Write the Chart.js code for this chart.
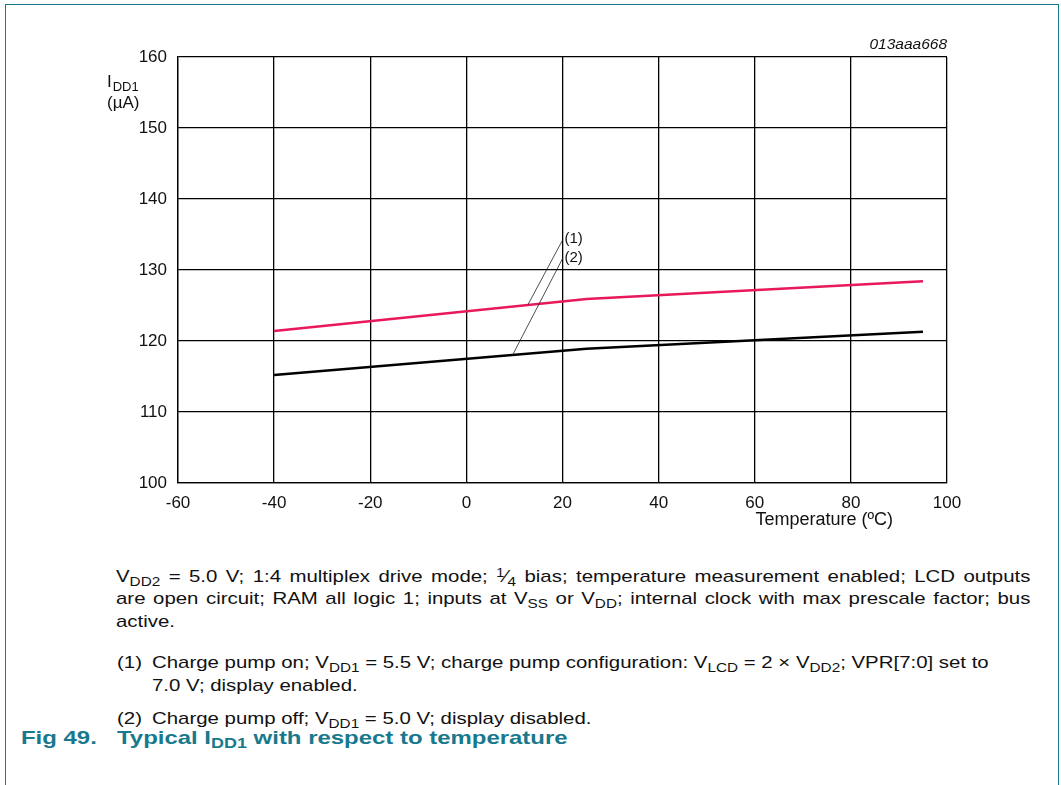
<!DOCTYPE html>
<html>
<head>
<meta charset="utf-8">
<script src="https://cdn.jsdelivr.net/npm/chart.js@4"></script>
<style>
  body { margin: 0; background: #fff; font-family: "Liberation Sans", Arial, sans-serif; }
  #frame { position: absolute; left: 5px; top: 4px; width: 1052px; height: 800px; border: 1.5px solid #16798c; border-bottom: none; }
  #chart { position: absolute; left: 0; top: 0; }
  .t { position: absolute; font-size: 17px; color: #111; white-space: nowrap; line-height: 22px; transform: scaleX(1.2); transform-origin: left center; }
  .t sub { font-size: 0.75em; vertical-align: -0.3em; line-height: 0; }
  .t sup { font-size: 0.7em; vertical-align: 0.45em; line-height: 0; }
  .j { width: 762px; white-space: normal; text-align: justify; text-align-last: justify; }
  .cap { color: #18798d; font-weight: bold; font-size: 19px; transform: scaleX(1.26); }
</style>
</head>
<body>
<div id="frame"></div>
<canvas id="chart" width="1061" height="540"></canvas>

<div class="t j" style="left:116px; top:566px;">V<sub>DD2</sub> = 5.0 V; 1:4 multiplex drive mode; <sup>1</sup>&frasl;<sub>4</sub> bias; temperature measurement enabled; LCD outputs</div>
<div class="t j" style="left:116px; top:588px;">are open circuit; RAM all logic 1; inputs at V<sub>SS</sub> or V<sub>DD</sub>; internal clock with max prescale factor; bus</div>
<div class="t" style="left:116px; top:611px;">active.</div>
<div class="t" style="left:117px; top:652px;">(1)</div>
<div class="t" style="left:152px; top:652px;">Charge pump on; V<sub>DD1</sub> = 5.5 V; charge pump configuration: V<sub>LCD</sub> = 2 &times; V<sub>DD2</sub>; VPR[7:0] set to</div>
<div class="t" style="left:152px; top:675px;">7.0 V; display enabled.</div>
<div class="t" style="left:117px; top:708px;">(2)</div>
<div class="t" style="left:152px; top:708px;">Charge pump off; V<sub>DD1</sub> = 5.0 V; display disabled.</div>
<div class="t cap" style="left:21px; top:727px;">Fig 49.</div>
<div class="t cap" style="left:117px; top:727px;">Typical I<sub>DD1</sub> with respect to temperature</div>

<script>
// data
var temps = [-40, 25, 95];
var iddPumpOn = [121.4, 125.9, 128.4];   // (1)
var iddPumpOff = [115.2, 118.9, 121.3];  // (2)

// callouts: label, label anchor, end of leader on curve
var calloutLabels = ['(1)', '(2)'];
var calloutFrom = [[20, 134.2], [20, 131.6]];
var calloutTo = [[12.8, 125.1], [9.6, 118.0]];

var FONT = '"Liberation Sans", Arial, sans-serif';

function pts(ys) {
  return temps.map(function (t, i) { return { x: t, y: ys[i] }; });
}

var extras = {
  id: 'extras',
  afterDraw: function (chart) {
    var ctx = chart.ctx;
    var xs = chart.scales.x, ys = chart.scales.y;
    ctx.save();
    ctx.fillStyle = '#111';
    ctx.strokeStyle = '#222';
    ctx.lineWidth = 0.8;

    // leader lines and labels
    for (var i = 0; i < calloutLabels.length; i++) {
      var x1 = xs.getPixelForValue(calloutFrom[i][0]), y1 = ys.getPixelForValue(calloutFrom[i][1]);
      var x2 = xs.getPixelForValue(calloutTo[i][0]), y2 = ys.getPixelForValue(calloutTo[i][1]);
      ctx.beginPath();
      ctx.moveTo(x1, y1);
      ctx.lineTo(x2, y2);
      ctx.stroke();
      ctx.font = '15px ' + FONT;
      ctx.textAlign = 'left';
      ctx.textBaseline = 'alphabetic';
      ctx.fillText(calloutLabels[i], x1 + 2, y1 + 3);
    }

    // y axis title
    ctx.font = '17px ' + FONT;
    ctx.fillText('I', 107, 87);
    var w = ctx.measureText('I').width;
    ctx.font = '13px ' + FONT;
    ctx.fillText('DD1', 107 + w + 1, 91);
    ctx.font = '17px ' + FONT;
    ctx.fillText('(\u00b5A)', 107, 108);

    // x axis title
    ctx.textAlign = 'right';
    ctx.font = '18px ' + FONT;
    ctx.fillText('Temperature (\u00baC)', 893, 525);

    // figure id
    ctx.font = 'italic 15.5px ' + FONT;
    ctx.fillText('013aaa668', chart.chartArea.right, 49);
    ctx.restore();
  }
};

var ctx = document.getElementById('chart').getContext('2d');
var myChart = new Chart(ctx, {
  type: 'line',
  data: {
    datasets: [{
      label: '(1)',
      data: pts(iddPumpOn),
      borderColor: '#e8185a',
      borderWidth: 2.5,
      pointRadius: 0,
      tension: 0
    }, {
      label: '(2)',
      data: pts(iddPumpOff),
      borderColor: '#000',
      borderWidth: 2.5,
      pointRadius: 0,
      tension: 0
    }]
  },
  options: {
    responsive: false,
    animation: false,
    layout: { padding: { left: 0, right: 114, top: 57, bottom: 0 } },
    plugins: {
      legend: { display: false },
      tooltip: { enabled: false }
    },
    scales: {
      x: {
        type: 'linear',
        min: -60,
        max: 100,
        ticks: { stepSize: 20, color: '#111', font: { size: 17, family: FONT }, padding: 10, maxRotation: 0 },
        grid: { color: '#000', lineWidth: 1.3, drawTicks: false },
        border: { color: '#000', width: 1.3 },
        afterFit: function (s) { s.height = 57; }
      },
      y: {
        min: 100,
        max: 160,
        ticks: { stepSize: 10, color: '#111', font: { size: 17, family: FONT }, padding: 11 },
        grid: { color: '#000', lineWidth: 1.3, drawTicks: false },
        border: { color: '#000', width: 1.3 },
        afterFit: function (s) { s.width = 178; }
      }
    }
  },
  plugins: [extras]
});
</script>
</body>
</html>
